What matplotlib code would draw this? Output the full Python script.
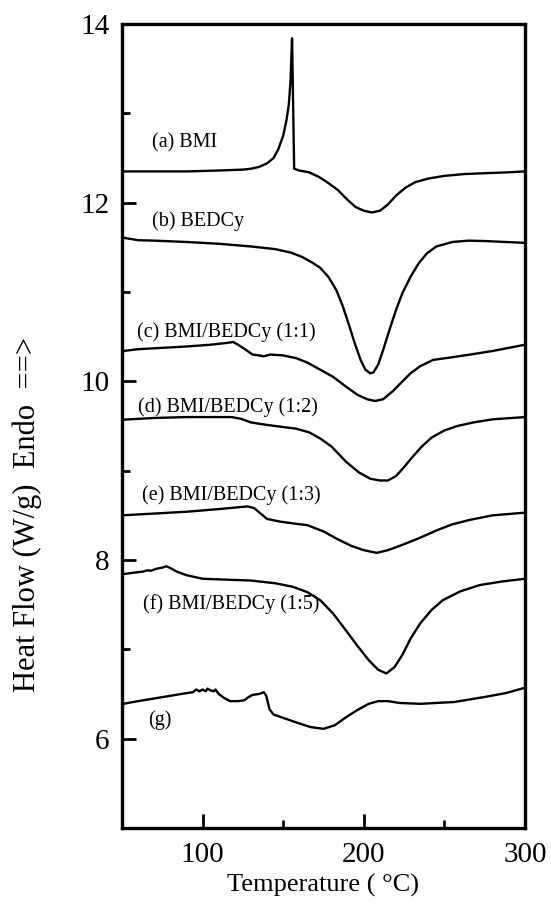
import numpy as np
import matplotlib
matplotlib.use("Agg")
import matplotlib.pyplot as plt

plt.rcParams['font.family'] = ['Liberation Serif', 'DejaVu Serif']

# (a) BMI
a_x = [50, 70, 90, 110, 125, 130, 135, 140, 144, 147, 150, 152, 153.5, 154.5, 155.5,
       156.8, 160, 166, 172, 178, 184, 190, 195, 200, 205, 210, 215, 220, 226, 232,
       240, 250, 262, 275, 290, 300]
a_y = [12.35, 12.35, 12.35, 12.36, 12.37, 12.38, 12.40, 12.44, 12.50, 12.60, 12.75, 12.92,
       13.10, 13.35, 13.84, 12.38, 12.36, 12.34, 12.29, 12.22, 12.14, 12.03, 11.95, 11.91,
       11.89, 11.91, 11.98, 12.08, 12.17, 12.23, 12.27, 12.30, 12.32, 12.33, 12.34, 12.35]

# (b) BEDCy
b_x = [50, 60, 70, 90, 110, 130, 145, 155, 162, 168, 173, 178, 183, 187, 191, 194.5, 198,
       201, 204, 206, 209, 212, 216, 220, 224, 229, 234, 239, 245, 255, 265, 276, 288, 300]
b_y = [11.61, 11.58, 11.575, 11.56, 11.54, 11.51, 11.48, 11.44, 11.39, 11.33, 11.27, 11.17,
       11.02, 10.84, 10.62, 10.42, 10.24, 10.13, 10.09, 10.10, 10.19, 10.35, 10.58, 10.80,
       10.99, 11.17, 11.32, 11.43, 11.51, 11.56, 11.575, 11.57, 11.56, 11.55]

# (c) BMI/BEDCy (1:1)
c_x = [50, 51, 60, 70, 90, 105, 115, 119, 122, 127, 131, 135, 138, 142, 150, 158, 165, 173,
       181, 189, 196, 202, 207, 212, 218, 224, 229, 235, 243, 255, 266, 280, 300]
c_y = [10.29, 10.34, 10.36, 10.37, 10.39, 10.41, 10.43, 10.44, 10.41, 10.35, 10.30, 10.29,
       10.28, 10.30, 10.29, 10.26, 10.21, 10.13, 10.05, 9.94, 9.85, 9.80, 9.78, 9.80, 9.89,
       10.00, 10.09, 10.17, 10.24, 10.27, 10.30, 10.34, 10.41]

# (d) BMI/BEDCy (1:2)
d_x = [50, 70, 90, 110, 118, 124, 130, 137, 145, 158, 166, 173, 180, 189, 197, 204, 210,
       215, 220, 225, 230, 236, 242, 250, 258, 268, 280, 300]
d_y = [9.57, 9.59, 9.60, 9.60, 9.60, 9.58, 9.54, 9.52, 9.50, 9.47, 9.43, 9.36, 9.27, 9.10,
       8.98, 8.91, 8.89, 8.89, 8.94, 9.04, 9.15, 9.27, 9.37, 9.45, 9.50, 9.54, 9.575, 9.60]

# (e) BMI/BEDCy (1:3)
e_x = [50, 70, 90, 110, 122, 128, 132, 136, 140, 148, 156, 165, 175, 183, 192, 200, 208,
       215, 224, 235, 245, 255, 266, 280, 300]
e_y = [8.50, 8.52, 8.54, 8.57, 8.59, 8.60, 8.58, 8.52, 8.46, 8.43, 8.41, 8.39, 8.32, 8.24,
       8.16, 8.11, 8.08, 8.11, 8.17, 8.25, 8.33, 8.40, 8.45, 8.50, 8.53]

# (f) BMI/BEDCy (1:5)
f_x = [50, 58, 63, 66, 68, 71, 75, 77.5, 80, 84, 90, 100, 115, 130, 145, 156, 165, 173,
       181, 189, 196, 203, 209, 214, 219, 224, 229, 235, 242, 249, 260, 272, 286, 300]
f_y = [7.84, 7.86, 7.87, 7.885, 7.88, 7.90, 7.915, 7.93, 7.91, 7.87, 7.83, 7.79, 7.78, 7.77,
       7.74, 7.70, 7.64, 7.55, 7.40, 7.21, 7.04, 6.88, 6.77, 6.73, 6.80, 6.94, 7.12, 7.29,
       7.44, 7.55, 7.65, 7.72, 7.76, 7.79]

# (g)
g_x = [50, 50.8, 60, 70, 80, 90, 94, 96, 98, 100, 102, 103, 105, 107, 108, 110, 113, 117,
       122, 126, 128, 131, 135, 138, 139.5, 141.5, 144, 152, 160, 167, 175, 182, 189, 196,
       203, 209, 215, 222, 235, 245, 256, 266, 276, 288, 300]
g_y = [6.28, 6.39, 6.42, 6.45, 6.48, 6.51, 6.52, 6.55, 6.53, 6.55, 6.53, 6.56, 6.54, 6.53,
       6.55, 6.50, 6.46, 6.42, 6.42, 6.43, 6.46, 6.49, 6.50, 6.52, 6.48, 6.33, 6.27, 6.22,
       6.17, 6.13, 6.11, 6.15, 6.24, 6.32, 6.39, 6.42, 6.42, 6.40, 6.39, 6.40, 6.41, 6.44,
       6.47, 6.51, 6.57]

curves = [(a_x, a_y), (b_x, b_y), (c_x, c_y), (d_x, d_y), (e_x, e_y), (f_x, f_y), (g_x, g_y)]

labels = ["(a) BMI", "(b) BEDCy", "(c) BMI/BEDCy (1:1)", "(d) BMI/BEDCy (1:2)",
          "(e) BMI/BEDCy (1:3)", "(f) BMI/BEDCy (1:5)", "(g)"]
label_x = [68.4, 68.4, 59.5, 60.1, 62.2, 63.2, 66.3]
label_y = [12.67, 11.79, 10.55, 9.71, 8.73, 7.51, 6.21]

fig = plt.figure(figsize=(5.51, 9.13), dpi=100)
ax = fig.add_axes([0.2214, 0.0931, 0.7314, 0.8806])

for cx, cy in curves:
    ax.plot(cx, cy, color='black', lw=1.7, solid_joinstyle='round')

for t, lx, ly in zip(labels, label_x, label_y):
    ax.text(lx, ly, t, fontsize=14.5, ha='left', va='center')

ax.set_xlim(50, 300)
ax.set_ylim(5, 14)
ax.set_xticks([100, 200, 300])
ax.set_xticks([150, 250], minor=True)
ax.set_yticks([6, 8, 10, 12, 14])
ax.set_yticks([7, 9, 11, 13], minor=True)
ax.tick_params(which='major', direction='in', length=10, width=2, labelsize=21)
ax.tick_params(axis='y', which='major', pad=9)
ax.tick_params(axis='x', which='major', pad=10)
ax.tick_params(which='minor', direction='in', length=6, width=2)
for s in ax.spines.values():
    s.set_linewidth(2.4)

ax.set_xlabel("Temperature ( °C)", fontsize=19, labelpad=4)
# y label sits low along the axis, as in the original
fig.text(0.050, 0.242, "Heat Flow (W/g)  Endo  ==>", fontsize=22, rotation=90,
         ha='center', va='bottom')

fig.savefig("out.png", dpi=100)
